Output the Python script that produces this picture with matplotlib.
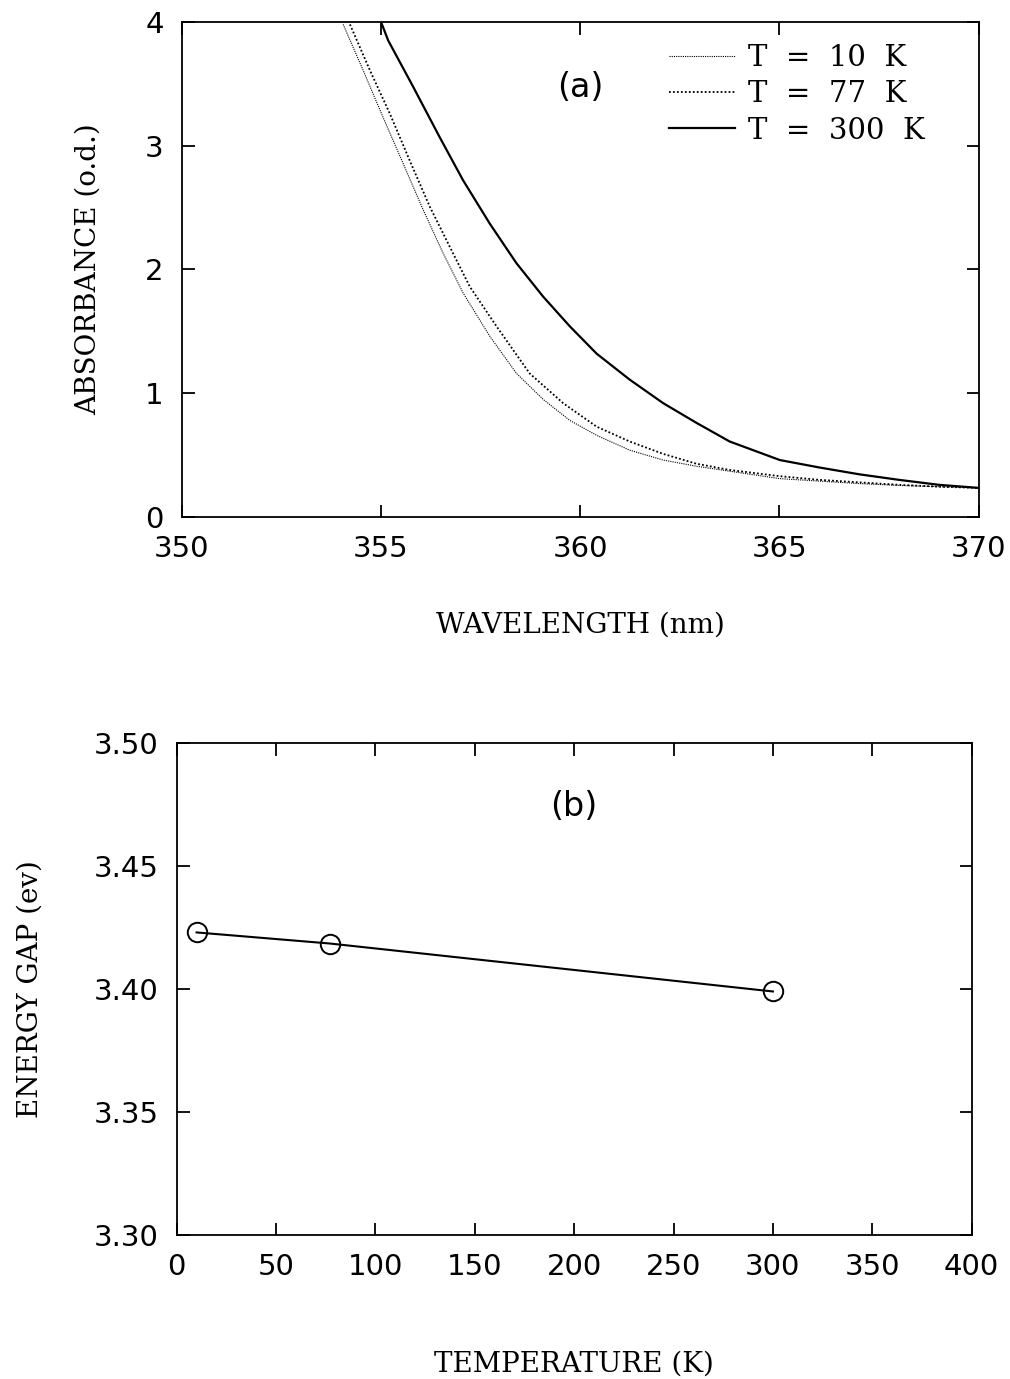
import numpy as np
from matplotlib import pyplot as plt

# (a) absorbance edge at three temperatures
wl_10 = [354.05, 354.55, 355.05, 355.55, 356.06, 356.56, 357.06, 357.73, 358.4, 359.07,
         359.74, 360.41, 361.24, 362.08, 362.92, 363.75, 365.0, 366.0, 367.0, 368.0, 369.0, 370.0]
abs_10 = [3.98, 3.61, 3.23, 2.86, 2.48, 2.13, 1.81, 1.46, 1.16, 0.95,
          0.78, 0.66, 0.54, 0.46, 0.41, 0.37, 0.31, 0.29, 0.27, 0.255, 0.245, 0.235]
wl_77 = [354.22, 354.72, 355.22, 355.72, 356.22, 356.73, 357.23, 357.9, 358.73, 359.57,
         360.41, 361.24, 362.08, 362.92, 363.75, 365.0, 366.0, 367.0, 368.0, 369.0, 370.0]
abs_77 = [3.98, 3.61, 3.26, 2.88, 2.51, 2.18, 1.86, 1.54, 1.16, 0.92,
          0.73, 0.61, 0.51, 0.43, 0.38, 0.33, 0.30, 0.28, 0.26, 0.245, 0.235]
wl_300 = [355.0, 355.18, 355.8, 356.47, 357.06, 357.73, 358.4, 359.07, 359.74, 360.41,
          361.24, 362.08, 362.92, 363.75, 365.01, 366.0, 367.0, 368.0, 369.0, 370.0]
abs_300 = [4.0, 3.85, 3.48, 3.07, 2.72, 2.37, 2.05, 1.78, 1.54, 1.32,
           1.11, 0.92, 0.76, 0.61, 0.46, 0.40, 0.345, 0.30, 0.26, 0.235]

# (b) energy gap vs temperature
temp = [10, 77, 300]
gap = [3.423, 3.4185, 3.399]

serif = 'DejaVu Serif'
plt.rcParams['font.family'] = 'DejaVu Sans'

fig = plt.figure(figsize=(10.1, 13.79), dpi=100)
ax1 = fig.add_axes([0.180, 0.6251, 0.789, 0.359])
ax2 = fig.add_axes([0.175, 0.1044, 0.787, 0.3568])

ax1.plot(wl_10, abs_10, color='black', lw=0.8, ls=(0, (1, 1)), label='T  =  10  K')
ax1.plot(wl_77, abs_77, color='black', lw=1.3, ls=(0, (1, 1.2)), label='T  =  77  K')
ax1.plot(wl_300, abs_300, color='black', lw=1.6, label='T  =  300  K')
ax1.set_xlim(350, 370)
ax1.set_ylim(0, 4)
ax1.set_xticks([350, 355, 360, 365, 370])
ax1.set_yticks([0, 1, 2, 3, 4])
ax1.text(359.99, 3.47, '(a)', fontsize=24, ha='center', va='center')
ax1.legend(loc='upper left', bbox_to_anchor=(0.612, 0.955), frameon=False,
           prop={'family': serif, 'size': 21}, handlelength=2.24,
           handletextpad=0.45, labelspacing=0.28, borderaxespad=0, borderpad=0)
ax1.set_xlabel('WAVELENGTH (nm)', family=serif, fontsize=20, labelpad=35)
ax1.set_ylabel('ABSORBANCE (o.d.)', family=serif, fontsize=20, labelpad=31)

ax2.plot(temp, gap, color='black', lw=1.5, marker='o', ms=14, mfc='none', mec='black', mew=1.4)
ax2.set_xlim(0, 400)
ax2.set_ylim(3.30, 3.50)
ax2.set_xticks(np.arange(0, 401, 50))
ax2.set_yticks([3.30, 3.35, 3.40, 3.45, 3.50])
ax2.set_yticklabels(['3.30', '3.35', '3.40', '3.45', '3.50'])
ax2.text(200, 3.474, '(b)', fontsize=24, ha='center', va='center')
ax2.set_xlabel('TEMPERATURE (K)', family=serif, fontsize=20, labelpad=50)
ax2.set_ylabel('ENERGY GAP (ev)', family=serif, fontsize=20, labelpad=36)

for ax in (ax1, ax2):
    for s in ax.spines.values():
        s.set_linewidth(1.3)
    ax.tick_params(direction='in', length=9, width=1.3, top=True, right=True,
                   labelsize=21, pad=13)

fig.savefig('out.png', dpi=100)
